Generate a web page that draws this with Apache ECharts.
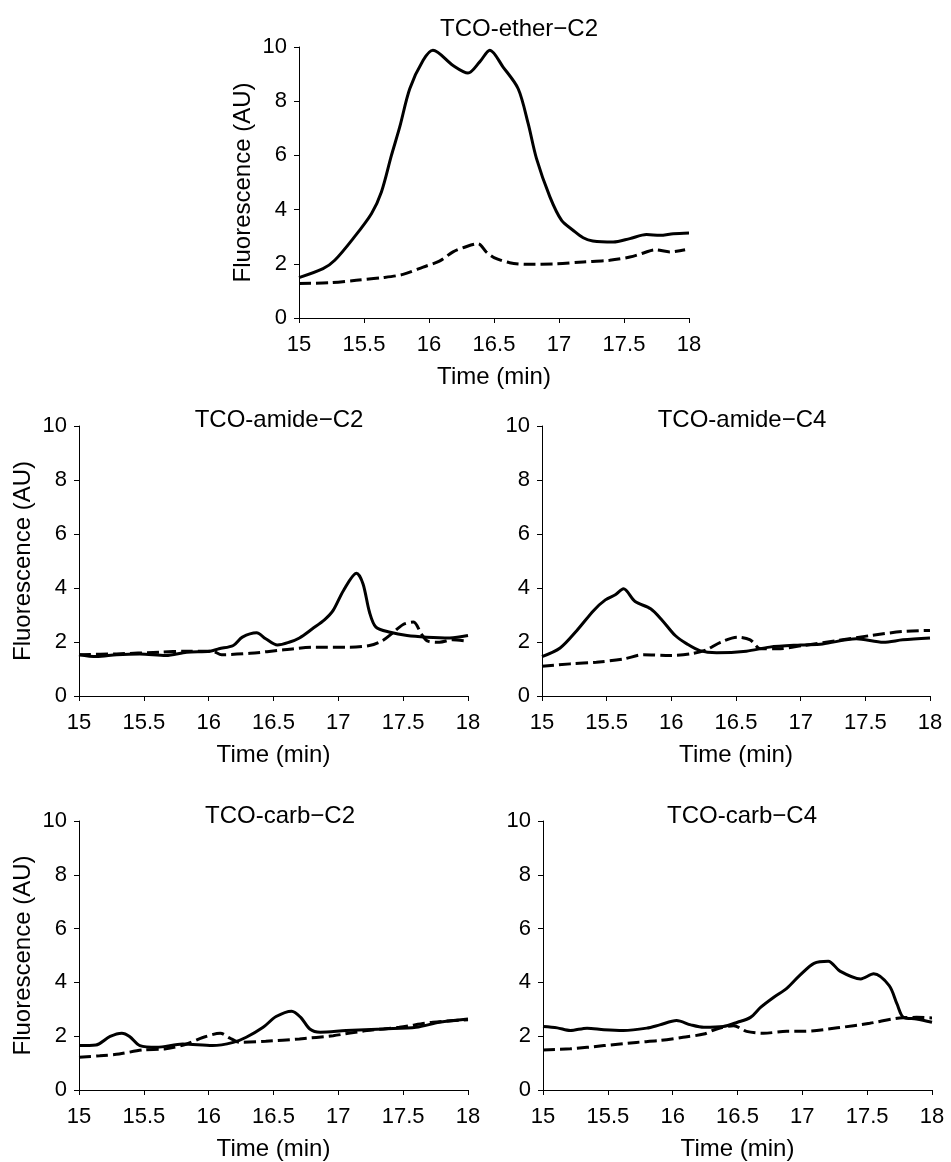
<!DOCTYPE html>
<html>
<head>
<meta charset="utf-8">
<script src="https://cdn.jsdelivr.net/npm/echarts@6/dist/echarts.min.js"></script>
<style>
  body { margin: 0; background: #fff; }
  #chart { width: 951px; height: 1162px; }
</style>
</head>
<body>
<div id="chart"></div>
<script>
// panel titles
const panelTitles = ['TCO-ether\u2212C2', 'TCO-amide\u2212C2', 'TCO-amide\u2212C4', 'TCO-carb\u2212C2', 'TCO-carb\u2212C4']
const xTicks = [15, 15.5, 16, 16.5, 17, 17.5, 18]
const yTicks = [0, 2, 4, 6, 8, 10]

// [time (min), fluorescence (AU)]
const etherC2Solid = [[15, 1.49], [15.185, 1.82], [15.275, 2.13], [15.416, 2.93], [15.557, 3.85], [15.634, 4.65], [15.711, 6.0], [15.775, 7.05], [15.852, 8.46], [15.955, 9.51], [16.03, 9.88], [16.185, 9.32], [16.3, 9.04], [16.39, 9.45], [16.468, 9.88], [16.57, 9.26], [16.686, 8.46], [16.763, 7.17], [16.827, 5.88], [16.93, 4.47], [17.02, 3.6], [17.11, 3.23], [17.186, 2.96], [17.26, 2.84], [17.417, 2.8], [17.545, 2.93], [17.673, 3.08], [17.776, 3.05], [17.879, 3.11], [18, 3.14]]
const etherC2Dash = [[15, 1.27], [15.236, 1.3], [15.44, 1.39], [15.647, 1.49], [15.8, 1.61], [15.955, 1.88], [16.08, 2.1], [16.185, 2.44], [16.29, 2.64], [16.378, 2.74], [16.44, 2.44], [16.5, 2.23], [16.62, 2.04], [16.75, 1.98], [16.98, 2.0], [17.186, 2.07], [17.39, 2.13], [17.545, 2.25], [17.65, 2.4], [17.74, 2.52], [17.853, 2.44], [17.97, 2.52]]

const amideC2Solid = [[15, 1.53], [15.134, 1.46], [15.29, 1.53], [15.47, 1.56], [15.67, 1.5], [15.83, 1.62], [16.01, 1.66], [16.08, 1.75], [16.19, 1.87], [16.26, 2.18], [16.37, 2.34], [16.44, 2.12], [16.53, 1.89], [16.62, 1.99], [16.7, 2.15], [16.8, 2.49], [16.895, 2.83], [16.96, 3.17], [17.04, 3.91], [17.14, 4.55], [17.19, 4.16], [17.24, 3.11], [17.29, 2.55], [17.4, 2.36], [17.53, 2.24], [17.68, 2.18], [17.86, 2.15], [18, 2.24]]
const amideC2Dash = [[15, 1.53], [15.29, 1.56], [15.62, 1.62], [15.83, 1.66], [16.03, 1.66], [16.1, 1.53], [16.32, 1.58], [16.58, 1.71], [16.83, 1.81], [17.09, 1.81], [17.24, 1.87], [17.34, 2.05], [17.41, 2.3], [17.5, 2.65], [17.58, 2.74], [17.64, 2.3], [17.69, 2.03], [17.78, 1.99], [17.88, 2.08], [18, 2.03]]

const amideC4Solid = [[15, 1.46], [15.14, 1.78], [15.27, 2.43], [15.4, 3.17], [15.49, 3.56], [15.57, 3.76], [15.63, 3.97], [15.72, 3.5], [15.84, 3.23], [15.93, 2.8], [16.03, 2.24], [16.12, 1.93], [16.22, 1.68], [16.35, 1.6], [16.58, 1.66], [16.76, 1.81], [17.0, 1.89], [17.17, 1.93], [17.43, 2.12], [17.64, 1.99], [17.79, 2.08], [18, 2.15]]
const amideC4Dash = [[15, 1.1], [15.22, 1.19], [15.42, 1.25], [15.63, 1.37], [15.785, 1.53], [15.99, 1.5], [16.15, 1.56], [16.27, 1.71], [16.38, 1.99], [16.51, 2.18], [16.61, 2.08], [16.69, 1.75], [16.82, 1.75], [17.02, 1.87], [17.28, 2.05], [17.54, 2.24], [17.79, 2.39], [18, 2.43]]

const carbC2Solid = [[15, 1.65], [15.13, 1.67], [15.24, 1.99], [15.33, 2.11], [15.39, 1.99], [15.47, 1.65], [15.6, 1.59], [15.8, 1.71], [16.03, 1.65], [16.19, 1.77], [16.29, 1.96], [16.42, 2.33], [16.52, 2.73], [16.64, 2.93], [16.71, 2.7], [16.78, 2.27], [16.86, 2.15], [17.06, 2.21], [17.35, 2.27], [17.6, 2.33], [17.78, 2.52], [18, 2.64]]
const carbC2Dash = [[15, 1.22], [15.16, 1.27], [15.31, 1.34], [15.49, 1.49], [15.67, 1.53], [15.83, 1.71], [15.96, 1.96], [16.09, 2.11], [16.16, 1.94], [16.24, 1.77], [16.44, 1.81], [16.7, 1.9], [16.96, 2.02], [17.22, 2.21], [17.47, 2.33], [17.73, 2.52], [18, 2.61]]

const carbC4Solid = [[15, 2.36], [15.11, 2.31], [15.21, 2.21], [15.34, 2.3], [15.47, 2.24], [15.62, 2.21], [15.8, 2.3], [15.9, 2.42], [16.03, 2.58], [16.14, 2.42], [16.24, 2.33], [16.39, 2.36], [16.5, 2.52], [16.6, 2.7], [16.68, 3.08], [16.78, 3.45], [16.88, 3.78], [16.98, 4.26], [17.09, 4.71], [17.2, 4.79], [17.29, 4.42], [17.45, 4.13], [17.55, 4.32], [17.67, 3.88], [17.73, 3.2], [17.78, 2.7], [17.88, 2.64], [18, 2.52]]
const carbC4Dash = [[15, 1.49], [15.21, 1.53], [15.47, 1.65], [15.72, 1.77], [15.9, 1.84], [16.08, 1.96], [16.24, 2.08], [16.34, 2.27], [16.47, 2.39], [16.57, 2.18], [16.7, 2.11], [16.88, 2.18], [17.01, 2.18], [17.27, 2.31], [17.52, 2.48], [17.75, 2.68], [17.88, 2.7], [18, 2.68]]

const solidSets = [etherC2Solid, amideC2Solid, amideC4Solid, carbC2Solid, carbC4Solid]
const dashSets = [etherC2Dash, amideC2Dash, amideC4Dash, carbC2Dash, carbC4Dash]

// layout of the five panels (px)
const grids = [
  { left: 299, top: 47, width: 390, height: 271 },
  { left: 79, top: 426, width: 389, height: 270 },
  { left: 542, top: 426, width: 388, height: 270 },
  { left: 79, top: 821, width: 389, height: 269 },
  { left: 543, top: 821, width: 389, height: 269 }
]
const titlePos = [[514, 12], [274, 403], [737, 403], [275, 799], [737, 799]]
const showYName = [true, true, false, true, false]

const font = 'Liberation Sans, Arial, sans-serif'
const axisLine = { show: true, lineStyle: { color: '#000', width: 1 } }
const axisTick = { show: true, length: 5, lineStyle: { color: '#000', width: 1 } }

let chart = echarts.init(document.getElementById('chart'))
let option = {
  backgroundColor: '#fff',
  animation: false,
  title: panelTitles.map(function (t, i) {
    return {
      text: t,
      left: titlePos[i][0],
      top: titlePos[i][1],
      textAlign: 'center',
      textStyle: { fontFamily: font, fontSize: 24, fontWeight: 'normal', color: '#000' }
    }
  }),
  grid: grids.map(function (g) {
    return Object.assign({ containLabel: false }, g)
  }),
  xAxis: grids.map(function (g, i) {
    return {
      type: 'value',
      gridIndex: i,
      min: xTicks[0],
      max: xTicks[xTicks.length - 1],
      interval: 0.5,
      name: 'Time (min)',
      nameLocation: 'middle',
      nameGap: 47,
      nameTextStyle: { fontFamily: font, fontSize: 24, color: '#000' },
      axisLine: axisLine,
      axisTick: axisTick,
      splitLine: { show: false },
      axisLabel: { fontFamily: font, fontSize: 22, color: '#000', margin: 16, showMinLabel: true, showMaxLabel: true }
    }
  }),
  yAxis: grids.map(function (g, i) {
    return {
      type: 'value',
      gridIndex: i,
      min: yTicks[0],
      max: yTicks[yTicks.length - 1],
      interval: 2,
      name: showYName[i] ? 'Fluorescence (AU)' : '',
      nameLocation: 'middle',
      nameRotate: 90,
      nameGap: 44,
      nameTextStyle: { fontFamily: font, fontSize: 24, color: '#000' },
      axisLine: axisLine,
      axisTick: axisTick,
      splitLine: { show: false },
      axisLabel: { fontFamily: font, fontSize: 22, color: '#000', margin: 12 }
    }
  }),
  series: []
}

for (let i = 0; i < 5; i++) {
  option.series.push({
    type: 'line',
    xAxisIndex: i,
    yAxisIndex: i,
    data: dashSets[i],
    showSymbol: false,
    smooth: 0.3,
    lineStyle: { color: '#000', width: 3, type: [12, 5] },
    z: 2
  })
  option.series.push({
    type: 'line',
    xAxisIndex: i,
    yAxisIndex: i,
    data: solidSets[i],
    showSymbol: false,
    smooth: 0.3,
    lineStyle: { color: '#000', width: 3 },
    z: 3
  })
}

chart.setOption(option, true)
</script>
</body>
</html>
